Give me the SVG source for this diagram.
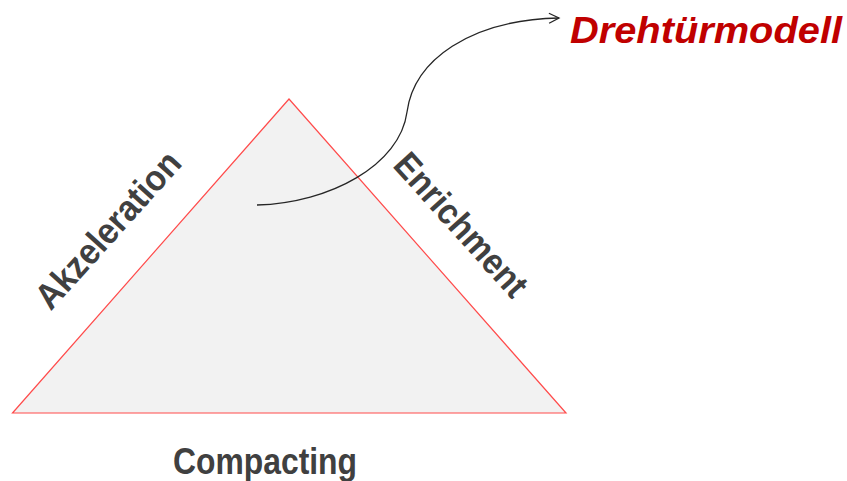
<svg xmlns="http://www.w3.org/2000/svg" width="847" height="481" viewBox="0 0 847 481">
<style>
.lbl{font-family:"Liberation Sans",Arial,sans-serif;font-weight:bold;font-size:36px;fill:#404040}
.title{font-family:"Liberation Sans",Arial,sans-serif;font-weight:bold;font-style:italic;font-size:36px;fill:#c00000}
</style>
<defs>
<marker id="arr" markerWidth="14" markerHeight="14" refX="11" refY="6" orient="auto" markerUnits="userSpaceOnUse">
<path d="M1,1 L11,6 L1,11" fill="none" stroke="#262626" stroke-width="1.3"/>
</marker>
</defs>
<rect width="847" height="481" fill="#ffffff"/>
<g id="triangle">
<polygon points="289,99 566,413 12.5,413" fill="#f2f2f2" stroke="#ff4b4b" stroke-width="1.2"/>
</g>
<g id="connectors">
<path d="M257,205 C330,203 400,165 407,112 C414,60 470,20 559,18" fill="none" stroke="#262626" stroke-width="1.3" marker-end="url(#arr)"/>
</g>
<g id="akzeleration">
<text class="lbl" transform="translate(117,238) rotate(-48)" text-anchor="middle" textLength="198" lengthAdjust="spacingAndGlyphs">Akzeleration</text>
</g>
<g id="enrichment">
<text class="lbl" transform="translate(452,233) rotate(48)" text-anchor="middle" textLength="180" lengthAdjust="spacingAndGlyphs">Enrichment</text>
</g>
<g id="compacting">
<text class="lbl" x="173" y="474" textLength="184" lengthAdjust="spacingAndGlyphs">Compacting</text>
</g>
<g id="drehtuermodell">
<text class="title" x="570" y="43" textLength="272" lengthAdjust="spacingAndGlyphs">Drehtürmodell</text>
</g>
</svg>
